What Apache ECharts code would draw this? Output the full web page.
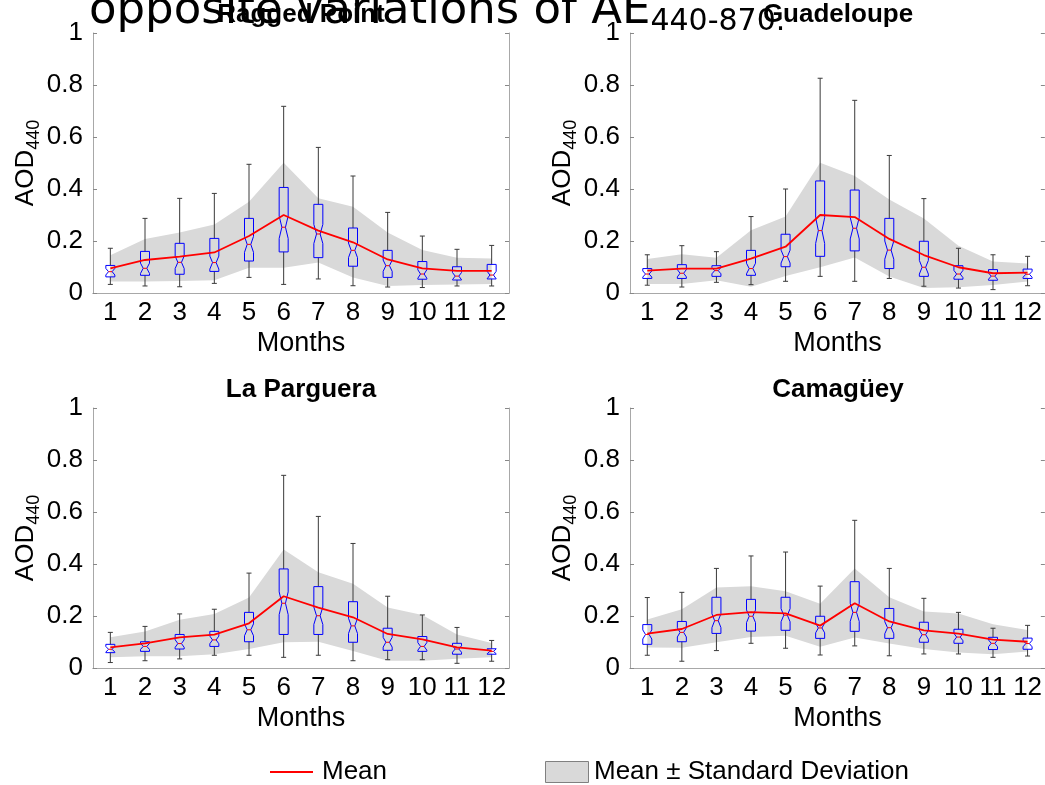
<!DOCTYPE html>
<html>
<head>
<meta charset="utf-8">
<script src="https://cdn.jsdelivr.net/npm/echarts@6/dist/echarts.min.js"></script>
<style>
  html, body { margin: 0; padding: 0; background: #fff; }
  #chart { width: 1045px; height: 785px; }
</style>
</head>
<body>
<div id="chart"></div>
<script>
const months = ['1', '2', '3', '4', '5', '6', '7', '8', '9', '10', '11', '12'];
const yTicks = [0, 0.2, 0.4, 0.6, 0.8, 1];
const stations = ['Ragged Point', 'Guadeloupe', 'La Parguera', 'Camagüey'];

// Ragged Point
const rpWhiskerHi = [0.172, 0.287, 0.364, 0.383, 0.495, 0.718, 0.560, 0.450, 0.310, 0.219, 0.168, 0.183];
const rpQ3 = [0.106, 0.160, 0.191, 0.210, 0.287, 0.406, 0.341, 0.250, 0.164, 0.121, 0.101, 0.110];
const rpMedian = [0.082, 0.095, 0.118, 0.117, 0.187, 0.253, 0.227, 0.164, 0.105, 0.073, 0.065, 0.069];
const rpQ1 = [0.062, 0.068, 0.072, 0.083, 0.123, 0.158, 0.136, 0.103, 0.060, 0.053, 0.050, 0.054];
const rpWhiskerLo = [0.033, 0.027, 0.024, 0.037, 0.060, 0.033, 0.054, 0.028, 0.023, 0.021, 0.027, 0.027];
const rpMean = [0.095, 0.127, 0.140, 0.156, 0.219, 0.300, 0.240, 0.195, 0.129, 0.095, 0.085, 0.085];
const rpSdHi = [0.145, 0.208, 0.233, 0.263, 0.351, 0.501, 0.364, 0.332, 0.233, 0.165, 0.136, 0.133];
const rpSdLo = [0.044, 0.044, 0.046, 0.049, 0.097, 0.097, 0.117, 0.060, 0.027, 0.031, 0.033, 0.035];

// Guadeloupe
const guWhiskerHi = [0.147, 0.182, 0.159, 0.294, 0.400, 0.826, 0.741, 0.529, 0.363, 0.172, 0.147, 0.141];
const guQ3 = [0.094, 0.109, 0.105, 0.164, 0.226, 0.431, 0.396, 0.287, 0.199, 0.105, 0.090, 0.092];
const guMedian = [0.073, 0.076, 0.086, 0.094, 0.140, 0.240, 0.249, 0.165, 0.099, 0.073, 0.065, 0.072];
const guQ1 = [0.056, 0.056, 0.064, 0.068, 0.101, 0.141, 0.162, 0.094, 0.064, 0.053, 0.049, 0.056];
const guWhiskerLo = [0.030, 0.023, 0.041, 0.032, 0.045, 0.064, 0.045, 0.056, 0.026, 0.019, 0.013, 0.028];
const guMean = [0.086, 0.094, 0.094, 0.132, 0.178, 0.300, 0.292, 0.208, 0.146, 0.099, 0.076, 0.078];
const guSdHi = [0.131, 0.149, 0.136, 0.241, 0.294, 0.501, 0.450, 0.360, 0.287, 0.182, 0.121, 0.113];
const guSdLo = [0.035, 0.035, 0.049, 0.024, 0.065, 0.099, 0.137, 0.063, 0.019, 0.022, 0.031, 0.044];

// La Parguera
const lpWhiskerHi = [0.137, 0.160, 0.208, 0.226, 0.365, 0.741, 0.583, 0.479, 0.276, 0.204, 0.156, 0.106];
const lpQ3 = [0.091, 0.101, 0.129, 0.141, 0.214, 0.381, 0.313, 0.255, 0.153, 0.121, 0.095, 0.074];
const lpMedian = [0.072, 0.083, 0.094, 0.108, 0.147, 0.249, 0.201, 0.162, 0.099, 0.083, 0.073, 0.064];
const lpQ1 = [0.059, 0.064, 0.073, 0.083, 0.101, 0.129, 0.129, 0.099, 0.068, 0.064, 0.053, 0.053];
const lpWhiskerLo = [0.021, 0.028, 0.035, 0.049, 0.049, 0.041, 0.049, 0.028, 0.032, 0.032, 0.018, 0.026];
const lpMean = [0.079, 0.095, 0.118, 0.128, 0.172, 0.276, 0.232, 0.195, 0.131, 0.110, 0.079, 0.067];
const lpSdHi = [0.118, 0.140, 0.186, 0.208, 0.271, 0.456, 0.368, 0.324, 0.233, 0.204, 0.129, 0.096];
const lpSdLo = [0.041, 0.045, 0.045, 0.053, 0.073, 0.099, 0.101, 0.065, 0.028, 0.028, 0.036, 0.041];

// Camagüey
const caWhiskerHi = [0.271, 0.291, 0.383, 0.431, 0.446, 0.315, 0.568, 0.383, 0.268, 0.214, 0.153, 0.164];
const caQ3 = [0.167, 0.179, 0.272, 0.264, 0.272, 0.199, 0.332, 0.229, 0.176, 0.149, 0.118, 0.115];
const caMedian = [0.129, 0.137, 0.182, 0.199, 0.203, 0.154, 0.214, 0.155, 0.128, 0.119, 0.095, 0.094];
const caQ1 = [0.091, 0.101, 0.133, 0.142, 0.145, 0.114, 0.141, 0.114, 0.099, 0.095, 0.071, 0.072];
const caWhiskerLo = [0.049, 0.026, 0.067, 0.095, 0.076, 0.050, 0.085, 0.047, 0.054, 0.054, 0.041, 0.046];
const caMean = [0.132, 0.150, 0.204, 0.215, 0.210, 0.163, 0.249, 0.179, 0.145, 0.132, 0.109, 0.101];
const caSdHi = [0.187, 0.226, 0.310, 0.314, 0.295, 0.247, 0.383, 0.272, 0.217, 0.210, 0.168, 0.146];
const caSdLo = [0.079, 0.078, 0.099, 0.119, 0.124, 0.082, 0.117, 0.094, 0.073, 0.060, 0.053, 0.063];

const panels = [
  { wHi: rpWhiskerHi, q3: rpQ3, med: rpMedian, q1: rpQ1, wLo: rpWhiskerLo, mean: rpMean, sdHi: rpSdHi, sdLo: rpSdLo },
  { wHi: guWhiskerHi, q3: guQ3, med: guMedian, q1: guQ1, wLo: guWhiskerLo, mean: guMean, sdHi: guSdHi, sdLo: guSdLo },
  { wHi: lpWhiskerHi, q3: lpQ3, med: lpMedian, q1: lpQ1, wLo: lpWhiskerLo, mean: lpMean, sdHi: lpSdHi, sdLo: lpSdLo },
  { wHi: caWhiskerHi, q3: caQ3, med: caMedian, q1: caQ1, wLo: caWhiskerLo, mean: caMean, sdHi: caSdHi, sdLo: caSdLo }
];

const FONT = '"Liberation Sans", Arial, sans-serif';
const AXIS_GREY = '#a8a8a8';
const gridPos = [[93, 33], [630, 33], [93, 408], [630, 408]];
const GW = 416, GH = 260;

var myChart = echarts.init(document.getElementById('chart'), null, { renderer: 'canvas' });

const grids = [], xAxes = [], yAxes = [], series = [];

gridPos.forEach(function (p, k) {
  grids.push({ left: p[0], top: p[1], width: GW, height: GH });
  // bottom x axis with labels
  xAxes.push({
    gridIndex: k, type: 'category', data: months, boundaryGap: true,
    axisLine: { lineStyle: { color: AXIS_GREY, width: 1 } },
    axisTick: { inside: true, alignWithLabel: true, length: 4, lineStyle: { color: '#888' } },
    axisLabel: { color: '#000', fontSize: 26, fontFamily: FONT, margin: 7, interval: 0 },
    name: 'Months', nameLocation: 'middle', nameGap: 37,
    nameTextStyle: { color: '#000', fontSize: 27, fontFamily: FONT },
    splitLine: { show: false }
  });
  // top mirror axis
  xAxes.push({
    gridIndex: k, type: 'category', data: months, boundaryGap: true, position: 'top',
    axisLine: { lineStyle: { color: AXIS_GREY, width: 1 } },
    axisTick: { inside: true, alignWithLabel: true, length: 4, lineStyle: { color: '#888' } },
    axisLabel: { show: false }, splitLine: { show: false }
  });
  yAxes.push({
    gridIndex: k, type: 'value', min: 0, max: 1, interval: 0.2,
    axisLine: { show: true, lineStyle: { color: AXIS_GREY, width: 1 } },
    axisTick: { show: true, inside: true, length: 4, lineStyle: { color: '#888' } },
    axisLabel: { color: '#000', fontSize: 26, fontFamily: FONT, margin: 10,
      formatter: function (v) { return String(+v.toFixed(1)); } },
    splitLine: { show: false },
    name: '{a|AOD}{b|440}', nameLocation: 'middle', nameRotate: 90, nameGap: 50,
    nameTextStyle: {
      rich: {
        a: { fontSize: 26, fontFamily: FONT, color: '#000', lineHeight: 26, verticalAlign: 'top' },
        b: { fontSize: 18, fontFamily: FONT, color: '#000', lineHeight: 18, verticalAlign: 'top', padding: [12, 0, 0, 0] }
      }
    }
  });
  yAxes.push({
    gridIndex: k, type: 'value', min: 0, max: 1, interval: 0.2, position: 'right',
    axisLine: { show: true, lineStyle: { color: AXIS_GREY, width: 1 } },
    axisTick: { show: true, inside: true, length: 4, lineStyle: { color: '#888' } },
    axisLabel: { show: false }, splitLine: { show: false }
  });

  const d = panels[k];

  // mean ± standard deviation band
  series.push({
    type: 'custom', name: 'Mean ± Standard Deviation',
    xAxisIndex: 2 * k, yAxisIndex: 2 * k, z: 1, silent: true,
    data: months.map(function (m, i) { return [i, d.sdLo[i], d.sdHi[i]]; }),
    renderItem: function (params, api) {
      if (params.dataIndex !== 0) return null;
      const pts = [];
      for (let i = 0; i < months.length; i++) pts.push(api.coord([i, d.sdHi[i]]));
      for (let i = months.length - 1; i >= 0; i--) pts.push(api.coord([i, d.sdLo[i]]));
      return { type: 'polygon', shape: { points: pts }, style: { fill: '#d9d9d9', stroke: null } };
    }
  });

  // notched boxplots
  series.push({
    type: 'custom', name: 'box',
    xAxisIndex: 2 * k, yAxisIndex: 2 * k, z: 3, silent: true,
    data: months.map(function (m, i) { return [i, d.wLo[i], d.q1[i], d.med[i], d.q3[i], d.wHi[i]]; }),
    renderItem: function (params, api) {
      const i = api.value(0);
      const x = api.coord([i, 0])[0];
      const Y = function (v) { return api.coord([i, v])[1]; };
      const wLo = api.value(1), q1 = api.value(2), med = api.value(3), q3 = api.value(4), wHi = api.value(5);
      const hw = 4.5, nw = 1.8, cw = 2.5;
      const nh = 0.15 * (q3 - q1) + 0.006;
      const yTop = Y(q3), yBot = Y(q1), yMed = Y(med);
      const yNt = Y(Math.min(med + nh, q3)), yNb = Y(Math.max(med - nh, q1));
      const wStyle = { stroke: '#3a3a3a', lineWidth: 1 };
      return {
        type: 'group',
        children: [
          { type: 'line', shape: { x1: x, y1: Y(wHi), x2: x, y2: yTop }, style: wStyle },
          { type: 'line', shape: { x1: x, y1: Y(wLo), x2: x, y2: yBot }, style: wStyle },
          { type: 'line', shape: { x1: x - cw, y1: Y(wHi), x2: x + cw, y2: Y(wHi) }, style: wStyle },
          { type: 'line', shape: { x1: x - cw, y1: Y(wLo), x2: x + cw, y2: Y(wLo) }, style: wStyle },
          {
            type: 'polygon',
            shape: { points: [
              [x - hw, yTop], [x + hw, yTop], [x + hw, yNt], [x + nw, yMed], [x + hw, yNb],
              [x + hw, yBot], [x - hw, yBot], [x - hw, yNb], [x - nw, yMed], [x - hw, yNt]
            ] },
            style: { fill: null, stroke: '#0000ff', lineWidth: 1 }
          },
          { type: 'line', shape: { x1: x - nw, y1: yMed, x2: x + nw, y2: yMed }, style: { stroke: '#ff0000', lineWidth: 1 } }
        ]
      };
    }
  });

  // mean line
  series.push({
    type: 'line', name: 'Mean', xAxisIndex: 2 * k, yAxisIndex: 2 * k, z: 5,
    data: d.mean, symbol: 'none', silent: true,
    lineStyle: { color: '#ff0000', width: 1.8 }
  });
});

const graphics = [];
// overlapping caption fragment at the top
graphics.push({
  type: 'text', x: 89, y: -11, z: 10,
  style: {
    text: '{m|opposite variations of AE}{s|440-870.}',
    verticalAlign: 'top', align: 'left',
    rich: {
      m: { fontSize: 45, fontFamily: '"DejaVu Sans", sans-serif', fill: '#000', lineHeight: 45, verticalAlign: 'top' },
      s: { fontSize: 30, fontFamily: '"DejaVu Sans", sans-serif', fill: '#000', lineHeight: 30, verticalAlign: 'top', padding: [18, 0, 0, 0] }
    }
  }
});
// station titles
stations.forEach(function (s, k) {
  graphics.push({
    type: 'text', x: gridPos[k][0] + GW / 2, y: gridPos[k][1] - 18, z: 11,
    style: { text: s, fontSize: 26, fontWeight: 'bold', fontFamily: FONT, fill: '#000', align: 'center', verticalAlign: 'middle' }
  });
});
// legend
graphics.push(
  { type: 'line', shape: { x1: 270, y1: 772, x2: 313, y2: 772 }, style: { stroke: '#ff0000', lineWidth: 2 } },
  { type: 'text', x: 322, y: 772, style: { text: 'Mean', fontSize: 26, fontFamily: FONT, fill: '#000', align: 'left', verticalAlign: 'middle' } },
  { type: 'rect', shape: { x: 545.5, y: 761.5, width: 43, height: 21 }, style: { fill: '#d9d9d9', stroke: '#808080', lineWidth: 1 } },
  { type: 'text', x: 594, y: 772, style: { text: 'Mean ± Standard Deviation', fontSize: 26, fontFamily: FONT, fill: '#000', align: 'left', verticalAlign: 'middle' } }
);

myChart.setOption({
  animation: false,
  backgroundColor: '#fff',
  grid: grids,
  xAxis: xAxes,
  yAxis: yAxes,
  series: series,
  graphic: graphics
});
window.addEventListener('resize', function () { myChart.resize(); });
</script>
</body>
</html>
